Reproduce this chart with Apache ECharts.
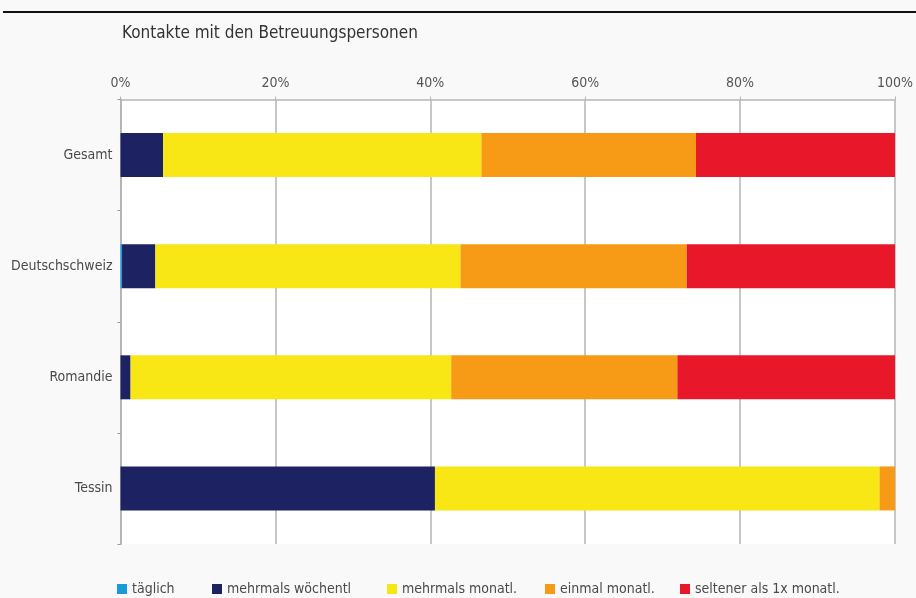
<!DOCTYPE html>
<html>
<head>
<meta charset="utf-8">
<script src="https://cdn.jsdelivr.net/npm/echarts@6/dist/echarts.min.js"></script>
<style>
  html, body { margin: 0; padding: 0; background: #f9f9f9; }
  #chart { width: 916px; height: 598px; }
</style>
</head>
<body>
<div id="chart"></div>
<script>
// Regions, top to bottom
const regions = ['Gesamt', 'Deutschschweiz', 'Romandie', 'Tessin'];

// Share of respondents per contact frequency (%)
const taeglich          = [0.0, 0.2, 0.0, 0.0];
const mehrmalsWoechentl = [5.5, 4.3, 1.3, 40.6];
const mehrmalsMonatl    = [41.1, 39.4, 41.4, 57.4];
const einmalMonatl      = [27.7, 29.2, 29.2, 2.0];
const seltener          = [25.7, 26.9, 28.1, 0.0];

const seriesNames = ['täglich', 'mehrmals wöchentl', 'mehrmals monatl.', 'einmal monatl.', 'seltener als 1x monatl.'];
const seriesValues = [taeglich, mehrmalsWoechentl, mehrmalsMonatl, einmalMonatl, seltener];
const seriesColors = ['#1a9bd7', '#1c2262', '#f8e615', '#f79a16', '#e8182a'];

const axisTicks = [0, 20, 40, 60, 80, 100];

const FONT = "'Liberation Sans Narrow', 'DejaVu Sans Condensed', 'Roboto Condensed', sans-serif";
const TEXT = '#4a4a4a';

// Legend items placed individually along the bottom (icon left edge)
const legendLeft = [117, 212, 387, 545, 680];

const chart = echarts.init(document.getElementById('chart'), null, { renderer: 'canvas' });

chart.setOption({
  backgroundColor: '#f9f9f9',
  animation: false,
  textStyle: { fontFamily: FONT },
  title: {
    text: 'Kontakte mit den Betreuungspersonen',
    left: 117,
    top: 20,
    textStyle: { fontFamily: FONT, fontSize: 17, fontWeight: 'normal', color: '#333' }
  },
  graphic: [{
    type: 'line',
    shape: { x1: 3, y1: 12, x2: 916, y2: 12 },
    style: { stroke: '#111', lineWidth: 2 }
  }],
  legend: seriesNames.map((name, i) => ({
    data: [name],
    left: legendLeft[i] - 5,
    top: 577,
    icon: 'rect',
    itemWidth: 10,
    itemHeight: 10,
    itemGap: 0,
    textStyle: { fontFamily: FONT, fontSize: 14, color: TEXT }
  })),
  grid: {
    left: 120.5,
    right: 20.5,
    top: 99.5,
    bottom: 54,
    show: true,
    backgroundColor: '#ffffff',
    borderWidth: 0
  },
  xAxis: {
    type: 'value',
    position: 'top',
    min: 0,
    max: 100,
    interval: 20,
    axisLine: { show: true, lineStyle: { color: '#b5b5b5', width: 1.5 } },
    axisTick: { show: true, inside: false, length: 3, lineStyle: { color: '#b5b5b5' } },
    axisLabel: {
      margin: 9,
      fontFamily: FONT,
      fontSize: 14,
      color: '#555',
      formatter: v => axisTicks.includes(v) ? v + '%' : ''
    },
    splitLine: { show: true, lineStyle: { color: '#b5b5b5', width: 1.5 } }
  },
  yAxis: {
    type: 'category',
    data: regions,
    inverse: true,
    axisLine: { show: true, lineStyle: { color: '#b5b5b5', width: 2 } },
    axisTick: { show: true, length: 3, lineStyle: { color: '#9a9a9a' } },
    axisLabel: { margin: 8, fontFamily: FONT, fontSize: 14, color: TEXT },
    splitLine: { show: false }
  },
  series: seriesNames.map((name, i) => ({
    name: name,
    type: 'bar',
    stack: 'total',
    barWidth: 44,
    data: seriesValues[i],
    itemStyle: { color: seriesColors[i] },
    emphasis: { disabled: true }
  }))
});
</script>
</body>
</html>
